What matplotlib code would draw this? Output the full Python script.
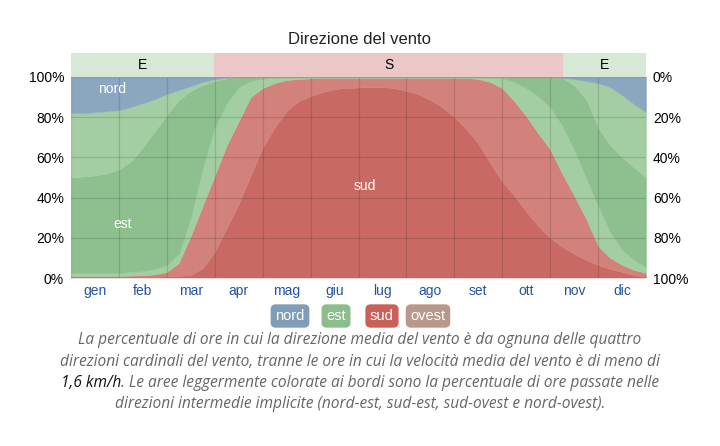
import numpy as np
import matplotlib.pyplot as plt

# ============================================================
# Data (percent of hours, cumulative from bottom)
# samples every quarter month from 1 Jan to 31 Dec
# ============================================================

months = ["gen", "feb", "mar", "apr", "mag", "giu",
          "lug", "ago", "set", "ott", "nov", "dic"]

x_samples = np.arange(49) / 4.0

ovest_top = [0.3] * 49

sud_top = [0.5, 0.5, 0.5, 0.5, 0.5, 0.5, 0.5, 0.6, 0.8, 1.0,
           1.5, 5, 13, 25, 37, 51, 65, 75, 83, 88,
           90.5, 92.5, 94, 94.5, 94.8, 95, 95, 94.5, 93, 91.5,
           88.5, 85, 80, 74, 67, 57, 48, 41, 33, 26,
           20, 15.5, 12, 9, 6.5, 4.5, 3, 1.5, 0.5]

sud_est_top = [1.0, 1.0, 1.0, 1.0, 1.0, 1.2, 1.4, 1.8, 3, 7.5,
               21, 36, 51, 66, 78, 90, 94.5, 97, 98.5, 99,
               99.3, 99.5, 99.5, 99.5, 99.5, 99.5, 99.5, 99.5, 99.5, 99.5,
               99.5, 99.5, 99.5, 99.5, 99, 97.5, 94.5, 88, 80.5, 72,
               64, 52, 41, 29.5, 16, 10, 6.5, 4, 2.5]

est_sud_top = [2.5, 2.5, 2.5, 2.5, 2.6, 3, 3.5, 4.5, 6.5, 12,
               30, 55, 75, 87, 95, 98, 99.2, 99.7, 100, 100,
               100, 100, 100, 100, 100, 100, 100, 100, 100, 100,
               100, 100, 100, 100, 100, 99.8, 99.5, 97.5, 94.5, 90.5,
               85, 76, 64, 50, 36, 23, 14, 9, 5.5]

est_top = [50, 50.5, 51, 52, 54, 58, 65, 73, 81, 88.5,
           93, 96, 98, 99.3, 100, 100, 100, 100, 100, 100,
           100, 100, 100, 100, 100, 100, 100, 100, 100, 100,
           100, 100, 100, 100, 100, 100, 100, 100, 100, 100,
           100, 99.5, 96, 89, 75, 66, 60, 55, 50]

est_nord_top = [82, 82, 82.5, 83, 83.5, 85, 87, 89, 91.5, 93.5,
                95.5, 97.5, 99, 99.6, 100, 100, 100, 100, 100, 100,
                100, 100, 100, 100, 100, 100, 100, 100, 100, 100,
                100, 100, 100, 100, 100, 100, 100, 100, 100, 100,
                100, 99.6, 99, 98, 97, 95, 91, 86.5, 82.5]

# dominant direction band on top
band_edges = [0, 2.99, 10.27, 12]
band_labels = ["E", "S", "E"]

legend_labels = ["nord", "est", "sud", "ovest"]

caption_lines = [
    "La percentuale di ore in cui la direzione media del vento è da ognuna delle quattro",
    "direzioni cardinali del vento, tranne le ore in cui la velocità media del vento è di meno di",
    None,
    "direzioni intermedie implicite (nord-est, sud-est, sud-ovest e nord-ovest).",
]
caption_bold = "1,6 km/h"
caption_rest = ". Le aree leggermente colorate ai bordi sono la percentuale di ore passate nelle"

# ============================================================
# Styling
# ============================================================

C_NORD = "#8aa7bf"
C_EST = "#8ebf8e"
C_EST_LIGHT = "#a3cda3"
C_SUD = "#c86a63"
C_SUD_LIGHT = "#d3817b"
C_OVEST = "#b8998c"
BAND_COLORS = {"E": "#d6e9d6", "S": "#ebc7c7"}
LEGEND_COLORS = ["#7f9db6", "#8dbd8d", "#c9615a", "#b9978b"]

plt.rcParams['font.family'] = ['Liberation Sans', 'DejaVu Sans']

fig = plt.figure(figsize=(7.2, 4.46), dpi=100)

ax = fig.add_axes([71 / 720, 1 - 278 / 446, 575 / 720, 201 / 446])
band = fig.add_axes([71 / 720, 1 - 77 / 446, 575 / 720, 24 / 446], sharex=ax)

layers = [
    (np.zeros(49), ovest_top, C_OVEST),
    (ovest_top, sud_top, C_SUD),
    (sud_top, sud_est_top, C_SUD_LIGHT),
    (sud_est_top, est_sud_top, C_EST_LIGHT),
    (est_sud_top, est_top, C_EST),
    (est_top, est_nord_top, C_EST_LIGHT),
    (est_nord_top, np.full(49, 100.0), C_NORD),
]
for lo, hi, col in layers:
    ax.fill_between(x_samples, lo, hi, facecolor=col, edgecolor=col,
                    linewidth=0.3, zorder=1)

ax.set_xlim(0, 12)
ax.set_ylim(0, 100)
ax.set_xticks(np.arange(12) + 0.5)
ax.set_xticklabels(months, color="#2452a4", fontsize=10)
ax.set_xticks(np.arange(13), minor=True)
ax.set_yticks([0, 20, 40, 60, 80, 100])
ax.set_yticklabels([f"{v}%" for v in [0, 20, 40, 60, 80, 100]], fontsize=10)
ax.tick_params(axis='both', which='both', length=0, pad=4)
ax.tick_params(axis='y', pad=5)
ax.grid(True, which='minor', axis='x', color='black', alpha=0.13, lw=0.9)
ax.grid(True, which='major', axis='y', color='black', alpha=0.13, lw=0.9)
for s in ax.spines.values():
    s.set_visible(False)
ax.axhline(100, color="#9a9a9a", lw=1.6, zorder=3)

right = ax.twinx()
right.set_ylim(100, 0)
right.set_yticks([0, 20, 40, 60, 80, 100])
right.set_yticklabels([f"{v}%" for v in [0, 20, 40, 60, 80, 100]], fontsize=10)
right.tick_params(axis='y', length=0, pad=5)
for s in right.spines.values():
    s.set_visible(False)

ax.text(0.86, 94, "nord", color="white", fontsize=10, ha='center', va='center', zorder=4)
ax.text(1.08, 27, "est", color="white", fontsize=10, ha='center', va='center', zorder=4)
ax.text(6.14, 46, "sud", color="white", fontsize=10, ha='center', va='center', zorder=4)

# top band of dominant direction
for i, lab in enumerate(band_labels):
    x0, x1 = band_edges[i], band_edges[i + 1]
    band.axvspan(x0, x1, color=BAND_COLORS[lab], lw=0)
    band.text((x0 + x1) / 2, 0.5, lab, ha='center', va='center', fontsize=10)
band.set_ylim(0, 1)
band.axis('off')

fig.text(360 / 720, 1 - 40 / 446, "Direzione del vento", ha='center', va='center',
         fontsize=12, color="#222222")

# legend buttons
legend_x = [290, 336, 382, 428]
for lab, col, lx in zip(legend_labels, LEGEND_COLORS, legend_x):
    fig.text(lx / 720, 1 - 316 / 446, lab, ha='center', va='center', color='white',
             fontsize=10.5,
             bbox=dict(boxstyle="round,pad=0.32,rounding_size=0.35", fc=col, ec='none'))

# caption
cap_kw = dict(fontsize=11.2, family=['Open Sans', 'DejaVu Sans'], style='italic')
line_y = [340, 362, 383, 404]
for ly, line in zip(line_y, caption_lines):
    if line is None:
        continue
    fig.text(0.5, 1 - ly / 446, line, ha='center', va='center', color="#666666", **cap_kw)

renderer = fig.canvas.get_renderer()
t_bold = fig.text(0, 0, caption_bold, color="#111111", **cap_kw)
t_rest = fig.text(0, 0, caption_rest, color="#666666", **cap_kw)
w_bold = t_bold.get_window_extent(renderer).width
w_rest = t_rest.get_window_extent(renderer).width
x_start = (720 - w_bold - w_rest) / 2
y3 = 1 - line_y[2] / 446
t_bold.set_position((x_start / 720, y3))
t_bold.set_va('center')
t_rest.set_position(((x_start + w_bold) / 720, y3))
t_rest.set_va('center')

fig.savefig("out.png", dpi=100)
